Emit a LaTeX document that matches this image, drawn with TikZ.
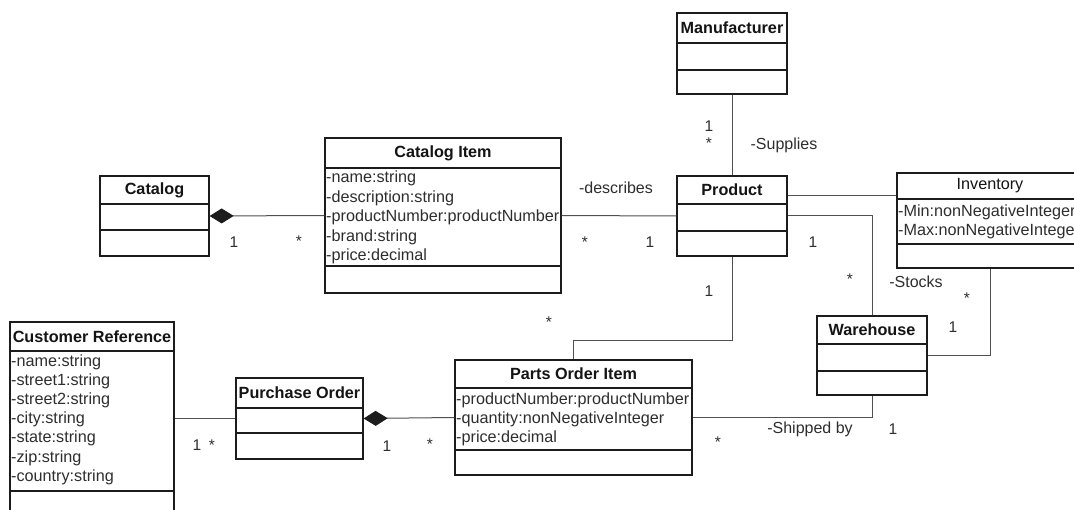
\documentclass[tikz,border=0pt]{standalone}
\usepackage{fontspec}
\setmainfont{Liberation Sans}
\usetikzlibrary{arrows.meta,calc,fit}
\definecolor{boxline}{HTML}{1C1C1C}
\definecolor{linecol}{HTML}{505050}
\definecolor{textcol}{HTML}{2E2E2E}
\definecolor{titlecol}{HTML}{141414}

% class box: name, left, top, right, bottom, title, title divider y, attribute divider y
\newcommand{\umlclass}[9][classtitle]{%
  \node[classbox, fit={(#3,#4) (#5,#6)}] (#2) {};
  \node[#1] (#2-title) at ({(#3+#5)/2},{(#4+#8)/2}) {#7};
  \draw[divider] (#3,#8) -- (#5,#8);
  \draw[divider] (#3,#9) -- (#5,#9);
}

\begin{document}
\begin{tikzpicture}[x=1pt,y=-1pt,
  classbox/.style={draw=boxline, line width=1.3pt, inner sep=0pt},
  divider/.style={draw=boxline, line width=1.3pt},
  classtitle/.style={font=\fontsize{16.2}{19}\selectfont\bfseries, text=titlecol, inner sep=0pt},
  plaintitle/.style={font=\fontsize{16.2}{19}\selectfont, text=titlecol, inner sep=0pt},
  attr/.style={font=\fontsize{16.2}{19}\selectfont, text=textcol, inner sep=0pt, anchor=west},
  link/.style={draw=linecol, line width=1pt},
  comp/.style={link, {Diamond[length=24pt,width=15pt,fill=boxline,color=boxline]}-},
  mult/.style={font=\fontsize{15.5}{18}\selectfont, text=textcol, inner sep=0pt},
  role/.style={font=\fontsize{16}{19}\selectfont, text=textcol, inner sep=0pt}]

\useasboundingbox (0,0) rectangle (1074,510);
\fill[white] (0,0) rectangle (1074,510);
\clip (0,0) rectangle (1074,510);

% ---- classes ----
\umlclass{catalog}{100}{176}{209}{256}{Catalog}{204}{230}
\umlclass{catitem}{325}{138}{561}{293}{Catalog Item}{168}{266}
\umlclass{manuf}{677}{13}{787}{94}{Manufacturer}{43}{70}
\umlclass{product}{677}{176}{787}{256}{Product}{204}{231}
\umlclass[plaintitle]{inventory}{897}{173}{1083}{268}{Inventory}{199}{244}
\umlclass{warehouse}{817}{316}{927}{395}{Warehouse}{344}{371}
\umlclass{parts}{455}{360}{692}{475}{Parts Order Item}{388}{450}
\umlclass{purchase}{236}{378}{363}{459}{Purchase Order}{408}{433}
\umlclass{custref}{10}{322}{174}{530}{Customer Reference}{351}{491}

% ---- attributes ----
\foreach \t/\yy [count=\i] in {-name:string/178, -description:string/198,
    -productNumber:productNumber/217, -brand:string/237, -price:decimal/256}
  \node[attr] (catitem-a\i) at (326,\yy) {\t};
\foreach \t/\yy [count=\i] in {-Min:nonNegativeInteger/212, -Max:nonNegativeInteger/231}
  \node[attr] (inventory-a\i) at (898,\yy) {\t};
\foreach \t/\yy [count=\i] in {-productNumber:productNumber/400,
    -quantity:nonNegativeInteger/419, -price:decimal/438}
  \node[attr] (parts-a\i) at (456,\yy) {\t};
\foreach \t/\yy [count=\i] in {-name:string/362, -street1:string/381, -street2:string/400,
    -city:string/419, -state:string/438, -zip:string/458, -country:string/477}
  \node[attr] (custref-a\i) at (11,\yy) {\t};

% ---- associations ----
\draw[comp] (catalog.east) -- (catitem.west);
\draw[link] (catitem.east) -- (product.west);
\draw[link] (manuf.south) -- (product.north);
\coordinate (prodinv) at ($(product.north east)+(0,20)$);
\draw[link] (prodinv) -- (prodinv -| inventory.west);
\draw[link] (product.east) -| (warehouse.north);
\draw[link] (inventory.south) |- (warehouse.east);
\draw[link] (product.south) -- ++(0,84) -| (parts.north);
\draw[link] (parts.east) -| (warehouse.south);
\draw[comp] (purchase.east) -- (parts.west);
\coordinate (custlink) at (purchase.west -| custref.east);
\draw[link] (purchase.west) -- (custlink);

% ---- multiplicities and roles ----
\node[mult] (m1) at (234,242) {1};
\node[mult] (m2) at (299,241) {*};
\node[role] (r1) at (616,188) {-describes};
\node[mult] (m3) at (585,242) {*};
\node[mult] (m4) at (650,242) {1};
\node[mult] (m5) at (709,126) {1};
\node[mult] (m6) at (709,143) {*};
\node[role] (r2) at (784,145) {-Supplies};
\node[mult] (m7) at (813,242) {1};
\node[mult] (m8) at (850,279) {*};
\node[role] (r3) at (916,282) {-Stocks};
\node[mult] (m9) at (967,298) {*};
\node[mult] (m10) at (953,327) {1};
\node[mult] (m11) at (709,291) {1};
\node[mult] (m12) at (549,322) {*};
\node[role] (r4) at (810,429) {-Shipped by};
\node[mult] (m13) at (893,429) {1};
\node[mult] (m14) at (718,442) {*};
\node[mult] (m15) at (197,445) {1};
\node[mult] (m16) at (212,445) {*};
\node[mult] (m17) at (387,446) {1};
\node[mult] (m18) at (430,444) {*};
\end{tikzpicture}
\end{document}
